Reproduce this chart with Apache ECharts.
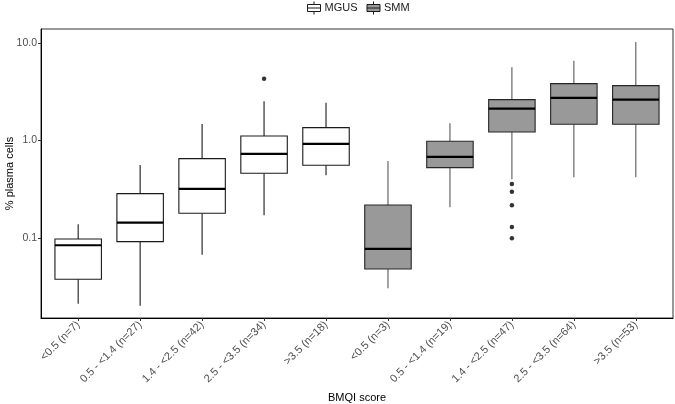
<!DOCTYPE html>
<html>
<head>
<meta charset="utf-8">
<script src="https://cdn.jsdelivr.net/npm/echarts@6/dist/echarts.min.js"></script>
<style>html,body{margin:0;padding:0;background:#fff}#c{width:675px;height:404px}</style>
</head>
<body>
<div id="c"></div>
<script>
// Categories (x tick labels)
const categories = ['<0.5 (n=7)', '0.5 - <1.4 (n=27)', '1.4 - <2.5 (n=42)', '2.5 - <3.5 (n=34)', '>3.5 (n=18)',
                    '<0.5 (n=3)', '0.5 - <1.4 (n=19)', '1.4 - <2.5 (n=47)', '2.5 - <3.5 (n=64)', '>3.5 (n=53)'];
// Box statistics: [lower whisker, Q1, median, Q3, upper whisker]
const mgusBoxes = [
  [0.0212, 0.0377, 0.0842, 0.0977, 0.138],
  [0.0202, 0.0917, 0.1435, 0.2847, 0.561],
  [0.0674, 0.179, 0.318, 0.651, 1.476],
  [0.171, 0.461, 0.727, 1.112, 2.524],
  [0.4395, 0.557, 0.921, 1.353, 2.442]
];
const smmBoxes = [
  [0.0305, 0.0481, 0.0771, 0.218, 0.6163],
  [0.2064, 0.526, 0.677, 0.981, 1.501],
  [0.400, 1.222, 2.12, 2.62, 5.633],
  [0.4195, 1.466, 2.729, 3.824, 6.58],
  [0.4195, 1.466, 2.62, 3.648, 10.24]
];
// Outliers per category within each group
const mgusOutliers = [[], [], [], [4.30], []];
const smmOutliers = [[], [], [0.358, 0.2985, 0.2165, 0.1297, 0.0993], [], []];
// Y tick labels
const yTicks = [0.1, 1, 10];

const groups = ['MGUS', 'SMM'];

function boxData(boxes, offset) {
  return boxes.map((b, i) => [i + 1 + offset].concat(b));
}
function outlierData(outs, offset) {
  const res = [];
  outs.forEach((arr, i) => arr.forEach(v => res.push([i + 1 + offset, v])));
  return res;
}
function makeRender(fill, stroke, whisker) {
  return function (params, api) {
    const x = api.value(0);
    const lo = api.coord([x, api.value(1)]);
    const q1 = api.coord([x, api.value(2)]);
    const med = api.coord([x, api.value(3)]);
    const q3 = api.coord([x, api.value(4)]);
    const hi = api.coord([x, api.value(5)]);
    const bw = api.size([1, 0], [x, 1])[0] * 0.75;
    const cx = lo[0];
    return {
      type: 'group',
      children: [
        { type: 'line', shape: { x1: cx, y1: lo[1], x2: cx, y2: q1[1] }, style: { stroke: whisker, lineWidth: 1.1 } },
        { type: 'line', shape: { x1: cx, y1: q3[1], x2: cx, y2: hi[1] }, style: { stroke: whisker, lineWidth: 1.1 } },
        { type: 'rect', shape: { x: cx - bw / 2, y: q3[1], width: bw, height: q1[1] - q3[1] }, style: { fill: fill, stroke: stroke, lineWidth: 1.1 } },
        { type: 'line', shape: { x1: cx - bw / 2, y1: med[1], x2: cx + bw / 2, y2: med[1] }, style: { stroke: '#000', lineWidth: 2.2 } }
      ]
    };
  };
}

const iconPath = 'path://M6.5,0 L6.5,3 M0,3 L13,3 L13,10 L0,10 Z M0,6.5 L13,6.5 M6.5,10 L6.5,13';

const chart = echarts.init(document.getElementById('c'), null, { renderer: 'canvas' });
chart.setOption({
  animation: false,
  backgroundColor: '#fff',
  textStyle: { fontFamily: 'Liberation Sans, Arial, sans-serif' },
  legend: {
    left: 307, top: 1, padding: 0,
    itemWidth: 13, itemHeight: 13, itemGap: 9,
    textStyle: { fontSize: 11, color: '#1a1a1a', padding: [0, 0, 0, -1] },
    data: [
      { name: groups[0], icon: iconPath, itemStyle: { color: '#ffffff', borderColor: '#1a1a1a', borderWidth: 1 } },
      { name: groups[1], icon: iconPath, itemStyle: { color: '#999999', borderColor: '#1a1a1a', borderWidth: 1 } }
    ]
  },
  grid: {
    left: 41, right: 2, top: 29, bottom: 86,
    outerBoundsMode: 'none', containLabel: false,
    show: true, borderColor: '#333333', borderWidth: 1, backgroundColor: 'transparent'
  },
  xAxis: {
    type: 'value', min: 0.4, max: 10.6,
    name: 'BMQI score', nameLocation: 'middle', nameGap: 74, nameMoveOverlap: false,
    nameTextStyle: { fontSize: 11, color: '#000' },
    splitLine: { show: false },
    axisLine: { show: true, lineStyle: { color: '#000', width: 1 } },
    axisTick: { show: true, length: 3, lineStyle: { color: '#333' }, customValues: categories.map((c, i) => i + 1) },
    axisLabel: {
      customValues: categories.map((c, i) => i + 1),
      formatter: v => categories[Math.round(v) - 1],
      rotate: 45, margin: 5, fontSize: 11, color: '#4d4d4d'
    }
  },
  yAxis: {
    type: 'log', logBase: 10, min: 0.0151, max: 13.9,
    name: '% plasma cells', nameLocation: 'middle', nameGap: 26, nameMoveOverlap: false,
    nameTextStyle: { fontSize: 11, color: '#000' },
    splitLine: { show: false },
    minorSplitLine: { show: false },
    axisLine: { show: true, lineStyle: { color: '#000', width: 1 } },
    axisTick: { show: true, length: 3, lineStyle: { color: '#333' }, customValues: yTicks },
    axisLabel: {
      customValues: yTicks,
      formatter: v => Number(v).toFixed(1),
      margin: 4, fontSize: 10.5, color: '#4d4d4d'
    }
  },
  series: [
    {
      name: groups[0], type: 'custom',
      renderItem: makeRender('#ffffff', '#1a1a1a', '#1a1a1a'),
      encode: { x: 0, y: [1, 2, 3, 4, 5] },
      data: boxData(mgusBoxes, 0)
    },
    {
      name: groups[1], type: 'custom',
      renderItem: makeRender('#999999', '#262626', '#595959'),
      encode: { x: 0, y: [1, 2, 3, 4, 5] },
      data: boxData(smmBoxes, 5)
    },
    {
      type: 'scatter', symbol: 'circle', symbolSize: 4.5,
      itemStyle: { color: '#000' },
      data: outlierData(mgusOutliers, 0).concat(outlierData(smmOutliers, 5))
    }
  ]
});
</script>
</body>
</html>
